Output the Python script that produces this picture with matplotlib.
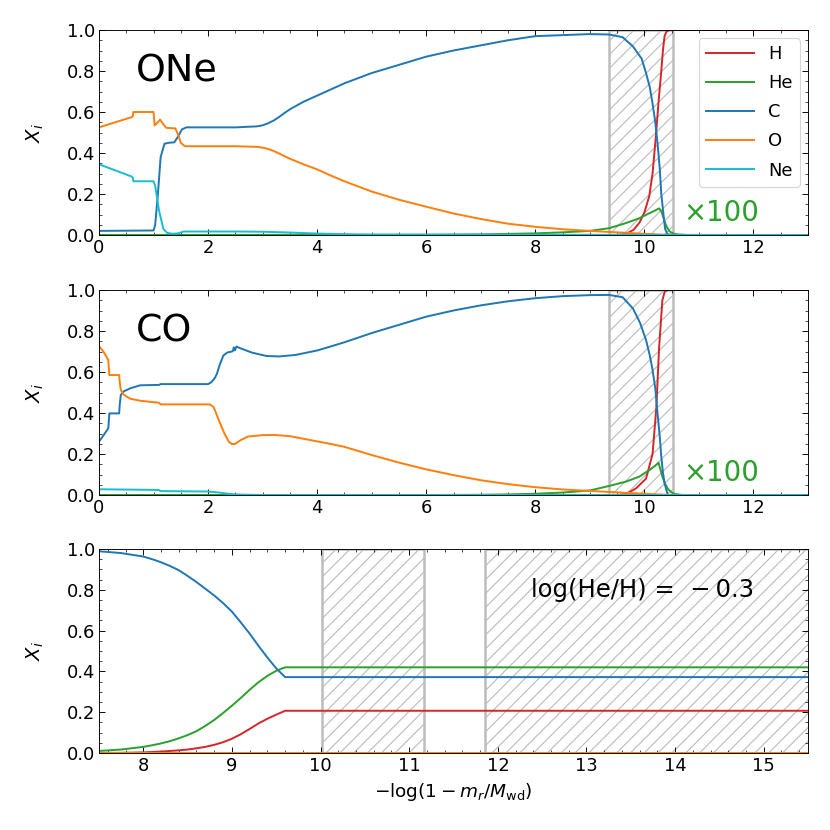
import matplotlib
matplotlib.use("Agg")
import matplotlib.pyplot as plt
from matplotlib.ticker import AutoMinorLocator

# ---------------- data ----------------
species = ["H", "He", "C", "O", "Ne"]
colors = {"H": "tab:red", "He": "tab:green", "C": "tab:blue", "O": "tab:orange", "Ne": "tab:cyan"}

# ONe model
one_H_x = [0, 9.5, 9.66, 9.8, 9.91, 10.0, 10.09, 10.15, 10.21, 10.26, 10.31, 10.34, 10.37, 10.4, 10.45, 13]
one_H_y = [0, 0.0, 0.005, 0.025, 0.06, 0.11, 0.19, 0.3, 0.48, 0.65, 0.8, 0.9, 0.97, 0.99, 1.0, 1.0]
one_He_x = [0, 6, 7, 8, 8.5, 9.0, 9.35, 9.66, 9.91, 10.09, 10.2, 10.27, 10.32, 10.37, 10.42, 10.46, 10.52, 10.6, 10.8, 13]
one_He_y = [0.0, 0.001, 0.003, 0.008, 0.013, 0.02, 0.033, 0.058, 0.082, 0.106, 0.12, 0.13, 0.11, 0.065, 0.035, 0.018, 0.008, 0.003, 0.0, 0]
one_C_x = [0, 1.0, 1.03, 1.08, 1.13, 1.2, 1.28, 1.38, 1.45, 1.52, 1.6, 2.0, 2.5, 2.9, 3.0, 3.1, 3.2, 3.3, 3.4, 3.5,
           3.75, 4.0, 4.25, 4.5, 5.0, 5.5, 6.0, 6.5, 7.0, 7.5, 8.0, 8.5, 9.0, 9.35, 9.6, 9.79, 9.95, 10.03, 10.1,
           10.15, 10.2, 10.24, 10.28, 10.31, 10.35, 10.38, 10.42, 10.5, 13]
one_C_y = [0.02, 0.022, 0.05, 0.2, 0.38, 0.445, 0.45, 0.452, 0.48, 0.515, 0.525, 0.525, 0.525, 0.53, 0.535, 0.545,
           0.558, 0.575, 0.595, 0.613, 0.65, 0.68, 0.71, 0.74, 0.79, 0.83, 0.87, 0.9, 0.925, 0.95, 0.97, 0.975,
           0.98, 0.978, 0.965, 0.92, 0.86, 0.79, 0.72, 0.64, 0.55, 0.45, 0.33, 0.2, 0.1, 0.03, 0.005, 0, 0]
one_O_x = [0, 0.6, 0.62, 0.63, 1.0, 1.02, 1.06, 1.12, 1.18, 1.23, 1.4, 1.45, 1.5, 1.575, 2.0, 2.5, 2.9, 3.0, 3.1,
           3.2, 3.3, 3.4, 3.5, 3.75, 4.0, 4.25, 4.5, 5.0, 5.5, 6.0, 6.5, 7.0, 7.5, 8.0, 8.5, 9.0, 9.35, 9.7, 10.0,
           10.3, 10.5, 13]
one_O_y = [0.525, 0.575, 0.58, 0.6, 0.6, 0.535, 0.545, 0.563, 0.54, 0.523, 0.52, 0.49, 0.45, 0.433, 0.433, 0.433,
           0.43, 0.426, 0.42, 0.41, 0.398, 0.385, 0.372, 0.345, 0.32, 0.29, 0.262, 0.212, 0.172, 0.138, 0.105,
           0.078, 0.055, 0.04, 0.028, 0.02, 0.015, 0.01, 0.006, 0.002, 0, 0]
one_Ne_x = [0, 0.6, 0.62, 0.63, 1.0, 1.03, 1.1, 1.18, 1.25, 1.35, 1.45, 1.55, 2.0, 2.5, 3.0, 3.5, 4.0, 4.5, 5.0, 13]
one_Ne_y = [0.345, 0.285, 0.28, 0.262, 0.262, 0.24, 0.12, 0.03, 0.01, 0.006, 0.008, 0.017, 0.017, 0.017, 0.016,
            0.012, 0.007, 0.004, 0.002, 0]

# CO model
co_H_x = [0, 9.5, 9.66, 9.85, 10.03, 10.15, 10.22, 10.27, 10.33, 10.37, 10.42, 13]
co_H_y = [0, 0, 0.004, 0.033, 0.08, 0.2, 0.43, 0.72, 0.95, 0.99, 1.0, 1.0]
co_He_x = [0, 6, 7, 7.5, 8.0, 8.5, 9.0, 9.35, 9.66, 9.91, 10.09, 10.2, 10.26, 10.33, 10.38, 10.43, 10.5, 10.55, 10.7, 13]
co_He_y = [0, 0.0, 0.001, 0.003, 0.006, 0.012, 0.022, 0.044, 0.065, 0.09, 0.122, 0.143, 0.157, 0.09, 0.055, 0.03,
           0.012, 0.005, 0, 0]
co_C_x = [0, 0.08, 0.17, 0.18, 0.19, 0.37, 0.38, 0.4, 0.45, 0.57, 0.75, 1.1, 1.13, 2.0, 2.06, 2.12, 2.16, 2.22,
          2.28, 2.35, 2.44, 2.46, 2.47, 2.49, 2.52, 2.6, 2.8, 3.07, 3.3, 3.6, 4.0, 4.23, 4.5, 5.0, 5.5, 6.0,
          6.5, 7.0, 7.5, 8.0, 8.5, 9.0, 9.35, 9.6, 9.79, 9.92, 10.03, 10.1, 10.15, 10.2, 10.24, 10.28, 10.31, 10.34,
          10.37, 10.43, 13]
co_C_y = [0.26, 0.29, 0.325, 0.36, 0.398, 0.398, 0.44, 0.488, 0.505, 0.52, 0.535, 0.537, 0.541, 0.541, 0.55, 0.569,
          0.59, 0.64, 0.68, 0.695, 0.70, 0.705, 0.72, 0.705, 0.724, 0.715, 0.695, 0.678, 0.676, 0.683, 0.705, 0.723,
          0.745, 0.79, 0.83, 0.87, 0.9, 0.925, 0.945, 0.96, 0.97, 0.975, 0.976, 0.965, 0.91, 0.84, 0.756, 0.68,
          0.61, 0.52, 0.40, 0.29, 0.187, 0.11, 0.057, 0.0, 0]
co_O_x = [0, 0.08, 0.17, 0.18, 0.19, 0.37, 0.38, 0.4, 0.45, 0.57, 0.75, 1.1, 1.13, 2.03, 2.1, 2.16, 2.22, 2.3, 2.38,
          2.44, 2.5, 2.6, 2.73, 3.0, 3.2, 3.5, 3.99, 4.23, 4.5, 5.0, 5.5, 6.0, 6.5, 7.0, 7.5, 8.0, 8.5, 9.0, 9.35,
          9.7, 10.0, 10.3, 10.5, 13]
co_O_y = [0.727, 0.70, 0.659, 0.62, 0.585, 0.585, 0.55, 0.512, 0.49, 0.47, 0.46, 0.45, 0.442, 0.442, 0.43, 0.39,
          0.35, 0.30, 0.26, 0.248, 0.25, 0.268, 0.285, 0.292, 0.293, 0.287, 0.262, 0.25, 0.235, 0.195, 0.158, 0.125,
          0.097, 0.072, 0.053, 0.038, 0.027, 0.02, 0.015, 0.01, 0.006, 0.002, 0, 0]
co_Ne_x = [0, 1.0, 1.1, 1.13, 2.0, 2.2, 2.4, 2.6, 3.0, 13]
co_Ne_y = [0.028, 0.025, 0.024, 0.019, 0.017, 0.012, 0.005, 0.002, 0.0, 0]

# envelope zoom (log He/H = -0.3)
env_C_x = [7.5, 7.75, 8.0, 8.1, 8.2, 8.3, 8.4, 8.5, 8.6, 8.7, 8.8, 8.9, 9.0, 9.1, 9.2, 9.3, 9.4, 9.5, 9.6, 15.5]
env_C_y = [0.989, 0.98, 0.963, 0.95, 0.935, 0.917, 0.896, 0.868, 0.838, 0.805, 0.772, 0.735, 0.693, 0.64, 0.585,
           0.525, 0.468, 0.415, 0.372, 0.372]
env_He_x = [7.5, 7.75, 8.0, 8.1, 8.2, 8.3, 8.4, 8.5, 8.6, 8.7, 8.8, 8.9, 9.0, 9.1, 9.2, 9.3, 9.4, 9.5, 9.6, 15.5]
env_He_y = [0.01, 0.017, 0.03, 0.038, 0.047, 0.058, 0.072, 0.088, 0.107, 0.133, 0.162, 0.196, 0.232, 0.27, 0.31,
            0.347, 0.378, 0.403, 0.42, 0.42]
env_H_x = [7.5, 7.75, 8.0, 8.2, 8.4, 8.5, 8.6, 8.7, 8.8, 8.9, 9.0, 9.1, 9.2, 9.3, 9.4, 9.5, 9.6, 15.5]
env_H_y = [0.0, 0.001, 0.003, 0.007, 0.013, 0.017, 0.023, 0.03, 0.04, 0.053, 0.07, 0.092, 0.118, 0.145, 0.168,
           0.188, 0.207, 0.207]
env_O_x = [7.5, 15.5]
env_O_y = [0.0, 0.0]

# hatched (convective) zones
top_zones = [(9.35, 10.52)]
bottom_zones = [(10.02, 11.17), (11.85, 15.6)]

panel_labels = ["ONe", "CO"]
scale_label = "×100"
env_label = "log(He/H) =  \u2212\u20090.3"
xlabel = r"$-\log(1-m_r/M_{\rm wd})$"
ylabel = r"$X_i$"

# ---------------- figure ----------------
plt.rcParams["font.family"] = ["DejaVu Sans"]
plt.rcParams["hatch.linewidth"] = 1.0
fig = plt.figure(figsize=(10, 10), dpi=83)

L, W = 99 / 830, 709 / 830
ax1 = fig.add_axes([L, 1 - 235 / 830, W, 205 / 830])
ax2 = fig.add_axes([L, 1 - 495 / 830, W, 205 / 830])
ax3 = fig.add_axes([L, 1 - 753 / 830, W, 204 / 830])

TICK = 15.5


def style(ax, xlim):
    ax.set_xlim(*xlim)
    ax.set_ylim(0, 1)
    ax.xaxis.set_minor_locator(AutoMinorLocator())
    ax.yaxis.set_minor_locator(AutoMinorLocator(4))
    ax.tick_params(which="both", direction="in", top=True, right=True, labelsize=TICK)
    ax.tick_params(which="major", length=5)
    ax.tick_params(which="minor", length=2.5)
    ax.set_ylabel(ylabel, fontsize=17)
    ax.yaxis.set_label_coords(-0.075, 0.5)


def zones(ax, zl):
    for a, b in zl:
        ax.axvspan(a, b, facecolor="none", edgecolor="#bdbdbd", hatch="//", lw=2.2, zorder=0.5)


sets = [
    (ax1, [one_H_x, one_He_x, one_C_x, one_O_x, one_Ne_x], [one_H_y, one_He_y, one_C_y, one_O_y, one_Ne_y]),
    (ax2, [co_H_x, co_He_x, co_C_x, co_O_x, co_Ne_x], [co_H_y, co_He_y, co_C_y, co_O_y, co_Ne_y]),
]
for i, (ax, xs, ys) in enumerate(sets):
    zones(ax, top_zones)
    for sp, x, y in zip(species, xs, ys):
        ax.plot(x, y, color=colors[sp], lw=1.7, label=sp)
    style(ax, (0, 13))
    ax.text(0.68, 0.80, panel_labels[i], fontsize=33, va="center", ha="left")
    ax.text(10.72, 0.105, scale_label, fontsize=24, color="tab:green", va="center", ha="left")

ax1.legend(loc="upper right", fontsize=15.5, handlelength=2.7, labelspacing=0.62, borderaxespad=0.45)

zones(ax3, bottom_zones)
for sp, x, y in zip(["H", "He", "C", "O"], [env_H_x, env_He_x, env_C_x, env_O_x], [env_H_y, env_He_y, env_C_y, env_O_y]):
    ax3.plot(x, y, color=colors[sp], lw=1.7)
style(ax3, (7.5, 15.5))
ax3.text(12.38, 0.80, env_label, fontsize=21, va="center", ha="left")
ax3.set_xlabel(xlabel, fontsize=16, labelpad=5)

fig.savefig("out.png", dpi=83)
